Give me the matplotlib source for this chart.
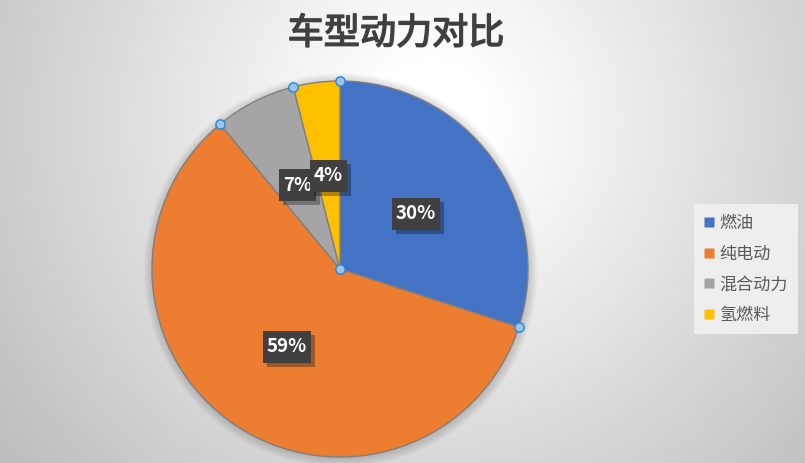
import numpy as np
import matplotlib
matplotlib.use("Agg")
import matplotlib.pyplot as plt
from matplotlib.lines import Line2D
from matplotlib.patches import Circle
from matplotlib.path import Path
import matplotlib.patheffects as pe

plt.rcParams['font.family'] = ['Noto Sans CJK SC', 'DejaVu Sans']

title = "车型动力对比"
categories = ["燃油", "纯电动", "混合动力", "氢燃料"]
values = [30, 59, 7, 4]
colors = ["#4472C4", "#ED7D31", "#A5A5A5", "#FFC000"]

W, H = 805, 463
fig = plt.figure(figsize=(W / 100, H / 100), dpi=100)

# background radial gradient
bg = fig.add_axes([0, 0, 1, 1])
yy, xx = np.mgrid[0:H, 0:W]
d = np.hypot(xx - 430, yy - 120)
v = 1 - 0.25 * np.clip((d - 60) / 470, 0, 1.1) ** 1.0
img = np.dstack([v, v, v])
bg.imshow(img, extent=[0, W, H, 0], aspect='auto', interpolation='bilinear')
bg.set_xlim(0, W)
bg.set_ylim(H, 0)
bg.axis('off')

# pie axes: center (340, 269) px, radius 188 px
cx, cy, R = 340, 269, 188
ax = fig.add_axes([(cx - R) / W, (H - cy - R) / H, 2 * R / W, 2 * R / H])
# soft shadow behind the pie
for i in range(8):
    ax.add_patch(Circle((0.004, -0.006), 1 + 0.006 * (i + 1), facecolor='black',
                        edgecolor='none', alpha=0.018, zorder=0, clip_on=False))
wedges, texts, autotexts = ax.pie(
    values, colors=colors, startangle=90, counterclock=False,
    autopct='%1.0f%%', pctdistance=0.5, radius=1,
    wedgeprops=dict(edgecolor='#7f7f7f', linewidth=1.0),
    textprops=dict(color='white', fontsize=13.5, fontweight='bold'))


def label_box(x0, y0, width, height, mutation_size):
    # fixed-height box with small horizontal padding (display units)
    px = 4
    h = 32
    yc = y0 + height / 2
    xa, xb = x0 - px, x0 + width + px
    ya, yb = yc - h / 2, yc + h / 2
    return Path([(xa, ya), (xb, ya), (xb, yb), (xa, yb), (xa, ya)], closed=True)


for t in autotexts:
    t.set_bbox(dict(boxstyle=label_box, fc='#404040', ec='none'))
    t.get_bbox_patch().set_path_effects(
        [pe.SimplePatchShadow(offset=(3, -3), shadow_rgbFace='black', alpha=0.3), pe.Normal()])
ax.set_xlim(-1, 1)
ax.set_ylim(-1, 1)
ax.set_aspect('auto')
ax.axis('off')

# selection handles at wedge boundaries
cum = np.cumsum([0] + values) / np.sum(values)
ang = np.deg2rad(90 - 360 * cum[:-1])
hx = list(np.cos(ang)) + [0]
hy = list(np.sin(ang)) + [0]
ax.scatter(hx, hy, s=45, facecolor='#9DC3E6', edgecolor='#1E88E5', linewidth=1.0, zorder=10, clip_on=False)

fig.text(0.492, 1 - 34 / H, title, ha='center', va='center', fontsize=26,
         color='#404040',
         path_effects=[pe.withStroke(linewidth=1.1, foreground='#404040')])

handles = [Line2D([], [], marker='s', linestyle='none', markersize=7,
                  markerfacecolor=c, markeredgecolor='none') for c in colors]
leg = fig.legend(handles, categories, loc='center left',
                 bbox_to_anchor=(699 / W, 1 - 269 / H), frameon=True,
                 fontsize=12.3, labelcolor='#595959', handlelength=0.6,
                 handletextpad=0.3, labelspacing=0.75, borderpad=0.3,
                 borderaxespad=0)
leg.get_frame().set_facecolor('#EEEEEE')
leg.get_frame().set_edgecolor('none')
leg.get_frame().set_alpha(1)
leg.get_frame().set_boxstyle('square')

fig.savefig('out.png', dpi=100)
